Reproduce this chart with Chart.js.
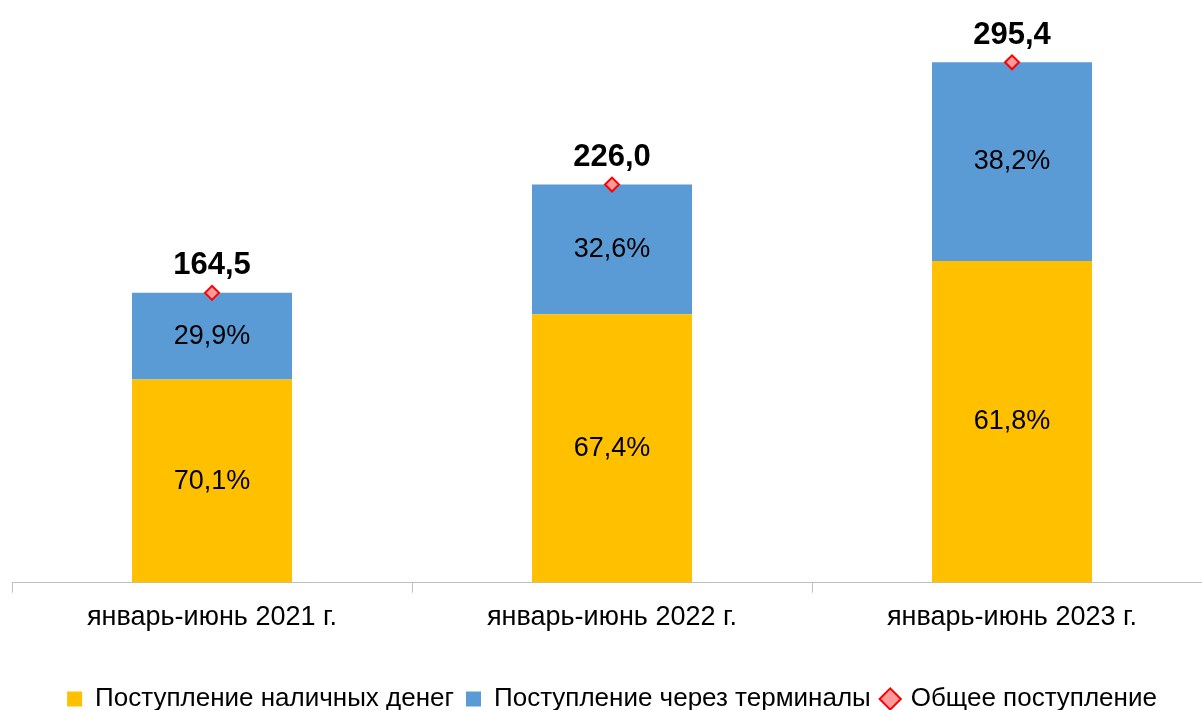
<!DOCTYPE html>
<html>
<head>
<meta charset="utf-8">
<script src="https://cdn.jsdelivr.net/npm/chart.js@4/dist/chart.umd.min.js"></script>
<style>
    html, body { margin: 0; padding: 0; background: #fff; overflow: hidden; }
    #wrap { width: 1212px; height: 710px; overflow: hidden; }
</style>
</head>
<body>
<div id="wrap"><canvas id="chart" width="1212" height="722"></canvas></div>
<script>
const categories = ['январь-июнь 2021 г.', 'январь-июнь 2022 г.', 'январь-июнь 2023 г.'];
const totals = [164.5, 226.0, 295.4];
const cashShare = [70.1, 67.4, 61.8];
const terminalShare = [29.9, 32.6, 38.2];

const seriesNames = ['Поступление наличных денег', 'Поступление через терминалы', 'Общее поступление'];

// absolute parts of each bar, from the total and the share
const cashValues = totals.map((t, i) => t * cashShare[i] / 100);
const terminalValues = totals.map((t, i) => t * terminalShare[i] / 100);

const FONT = 'Arial, "Liberation Sans", sans-serif';
const fmt = v => v.toFixed(1).replace('.', ',');

const labelPlugin = {
    id: 'barLabels',
    afterDatasetsDraw(chart) {
        const ctx = chart.ctx;
        ctx.save();
        ctx.textAlign = 'center';
        ctx.textBaseline = 'middle';
        ctx.fillStyle = '#000';
        const shares = [cashShare, terminalShare];
        [0, 1].forEach(di => {
            const meta = chart.getDatasetMeta(di);
            ctx.font = '27px ' + FONT;
            meta.data.forEach((el, i) => {
                ctx.fillText(fmt(shares[di][i]) + '%', el.x, (el.y + el.base) / 2);
            });
        });
        const lineMeta = chart.getDatasetMeta(2);
        ctx.font = 'bold 31px ' + FONT;
        lineMeta.data.forEach((pt, i) => {
            ctx.fillText(fmt(totals[i]), pt.x, pt.y - 27);
        });
        ctx.restore();
    }
};

const ctx = document.getElementById('chart').getContext('2d');
const chart = new Chart(ctx, {
    type: 'bar',
    data: {
        labels: categories,
        datasets: [{
            label: seriesNames[0],
            data: cashValues,
            backgroundColor: '#FFC000',
            borderWidth: 0,
            pointStyle: 'rect',
            barPercentage: 0.4,
            categoryPercentage: 1.0,
            order: 1
        }, {
            label: seriesNames[1],
            data: terminalValues,
            backgroundColor: '#5B9BD5',
            borderWidth: 0,
            pointStyle: 'rect',
            barPercentage: 0.4,
            categoryPercentage: 1.0,
            order: 1
        }, {
            type: 'line',
            label: seriesNames[2],
            data: totals,
            showLine: false,
            stack: 'total',
            pointStyle: 'rectRot',
            pointRadius: 7,
            pointBorderWidth: 2,
            borderColor: '#FF0000',
            backgroundColor: '#FF9A9A',
            pointBackgroundColor: '#FF9A9A',
            pointBorderColor: '#FF0000',
            order: 0
        }]
    },
    options: {
        responsive: false,
        animation: false,
        layout: { autoPadding: false, padding: { left: 12, right: 0, top: 19, bottom: 0 } },
        plugins: {
            tooltip: { enabled: false },
            legend: {
                position: 'bottom',
                labels: {
                    usePointStyle: true,
                    boxWidth: 15,
                    boxHeight: 15,
                    padding: 12,
                    color: '#000',
                    font: { family: FONT, size: 26 },
                    sort: (a, b) => a.datasetIndex - b.datasetIndex
                }
            }
        },
        scales: {
            x: {
                stacked: true,
                grid: {
                    drawOnChartArea: false,
                    color: '#BFBFBF',
                    tickLength: 10
                },
                border: { color: '#BFBFBF' },
                ticks: {
                    color: '#000',
                    padding: 9,
                    font: { family: FONT, size: 27 }
                },
                afterFit: s => { s.height += 31; }
            },
            y: {
                display: false,
                stacked: true,
                min: 0,
                max: 320
            }
        }
    },
    plugins: [labelPlugin]
});
</script>
</body>
</html>
